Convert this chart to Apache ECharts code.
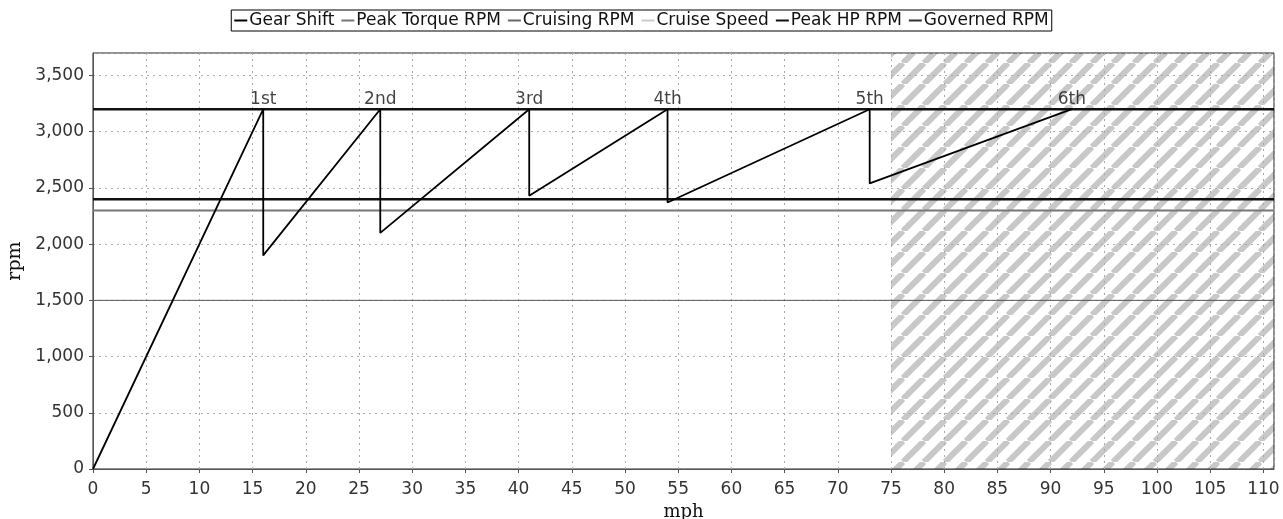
<!DOCTYPE html>
<html>
<head>
<meta charset="utf-8">
<script src="https://cdn.jsdelivr.net/npm/echarts@6/dist/echarts.min.js"></script>
<style>
  html, body { margin: 0; padding: 0; background: #fff; }
  #chart { width: 1283px; height: 519px; }
</style>
</head>
<body>
<div id="chart"></div>
<script>
// gear shift sawtooth (mph, rpm)
const gearMph = [0, 16, 16, 27, 27, 41, 41, 54, 54, 73, 73, 92]
const gearRpm = [0, 3200, 1900, 3200, 2100, 3200, 2430, 3200, 2370, 3200, 2540, 3200]
const gearNames = ['1st', '2nd', '3rd', '4th', '5th', '6th']
const gearPeakMph = [16, 27, 41, 54, 73, 92]

const peakTorqueRpm = 1500
const cruisingRpm = 2300
const cruiseSpeedMph = 75
const peakHpRpm = 2400
const governedRpm = 3200

const xMin = 0
const xMax = 111
const yMin = 0
const yMax = 3700

function hatchPattern() {
  const s = 21
  const c = document.createElement('canvas')
  c.width = s
  c.height = s
  const ctx = c.getContext('2d')
  ctx.fillStyle = '#ffffff'
  ctx.fillRect(0, 0, s, s)
  ctx.strokeStyle = '#c8c8c8'
  ctx.lineWidth = 6
  for (let k = -1; k <= 1; k++) {
    ctx.beginPath()
    ctx.moveTo(k * s, s)
    ctx.lineTo(k * s + s, 0)
    ctx.stroke()
  }
  return c
}

function flatLine(v) {
  return [[xMin, v], [xMax, v]]
}

const chart = echarts.init(document.getElementById('chart'))
const font = 'DejaVu Sans'

chart.setOption({
  backgroundColor: '#fff',
  animation: false,
  legend: {
    top: 10,
    left: 'center',
    data: ['Gear Shift', 'Peak Torque RPM', 'Cruising RPM', 'Cruise Speed', 'Peak HP RPM', 'Governed RPM'],
    icon: 'rect',
    borderColor: '#000',
    borderWidth: 1,
    padding: [2, 3],
    itemGap: 7,
    itemWidth: 13,
    itemHeight: 2,
    textStyle: { fontFamily: font, fontSize: 17, color: '#111', padding: [0, 0, 0, -3] }
  },
  grid: {
    left: 93,
    right: 9,
    top: 53,
    bottom: 50,
    outerBoundsMode: 'none',
    containLabel: false,
    show: true,
    borderColor: '#222',
    borderWidth: 1
  },
  xAxis: {
    type: 'value',
    min: xMin,
    max: xMax,
    interval: 5,
    name: 'mph',
    nameLocation: 'middle',
    nameGap: 34,
    nameTextStyle: { fontFamily: 'DejaVu Serif', fontSize: 18, color: '#111' },
    axisLine: { show: true, onZero: false, lineStyle: { color: '#555' } },
    axisTick: { show: true, length: 4, lineStyle: { color: '#555' } },
    axisLabel: { fontFamily: font, fontSize: 17, color: '#333', showMaxLabel: false, margin: 12 },
    splitLine: { show: true, lineStyle: { color: '#aaa', type: [2, 4], width: 1 } }
  },
  yAxis: {
    type: 'value',
    min: yMin,
    max: yMax,
    interval: 500,
    name: 'rpm',
    nameLocation: 'middle',
    nameGap: 66,
    nameTextStyle: { fontFamily: 'DejaVu Serif', fontSize: 19, color: '#111' },
    axisLine: { show: true, lineStyle: { color: '#555' } },
    axisTick: { show: true, length: 4, lineStyle: { color: '#555' } },
    axisLabel: {
      fontFamily: font, fontSize: 17, color: '#333', showMaxLabel: false, margin: 9,
      formatter: v => v.toLocaleString('en-US')
    },
    splitLine: { show: true, lineStyle: { color: '#aaa', type: [2, 4], width: 1 } }
  },
  series: [
    {
      name: 'Cruise Speed',
      type: 'line',
      data: [],
      symbol: 'none',
      lineStyle: { color: '#ccc', width: 1, type: 'dotted' },
      itemStyle: { color: '#ccc' },
      markArea: {
        silent: true,
        z: -1,
        itemStyle: { color: { image: hatchPattern(), repeat: 'repeat' }, opacity: 1 },
        data: [[{ xAxis: cruiseSpeedMph }, { xAxis: xMax }]]
      }
    },
    {
      name: 'Peak Torque RPM',
      type: 'line',
      data: flatLine(peakTorqueRpm),
      symbol: 'none',
      lineStyle: { color: '#555', width: 1 },
      itemStyle: { color: '#777' }
    },
    {
      name: 'Cruising RPM',
      type: 'line',
      data: flatLine(cruisingRpm),
      symbol: 'none',
      lineStyle: { color: '#777', width: 2 },
      itemStyle: { color: '#666' }
    },
    {
      name: 'Peak HP RPM',
      type: 'line',
      data: flatLine(peakHpRpm),
      symbol: 'none',
      lineStyle: { color: '#111', width: 2.5 },
      itemStyle: { color: '#111' }
    },
    {
      name: 'Governed RPM',
      type: 'line',
      data: flatLine(governedRpm),
      symbol: 'none',
      lineStyle: { color: '#111', width: 2.5 },
      itemStyle: { color: '#333' }
    },
    {
      name: 'Gear Shift',
      type: 'line',
      data: gearMph.map((x, i) => [x, gearRpm[i]]),
      symbol: 'none',
      lineStyle: { color: '#000', width: 1.8 },
      itemStyle: { color: '#000' }
    },
    {
      name: 'gear labels',
      type: 'scatter',
      symbolSize: 0,
      data: gearPeakMph.map((x, i) => [x, governedRpm, gearNames[i]]),
      label: {
        show: true,
        position: 'top',
        distance: 1,
        formatter: p => p.value[2],
        fontFamily: font,
        fontSize: 17,
        color: '#111'
      },
      z: 5
    }
  ]
})
</script>
</body>
</html>
